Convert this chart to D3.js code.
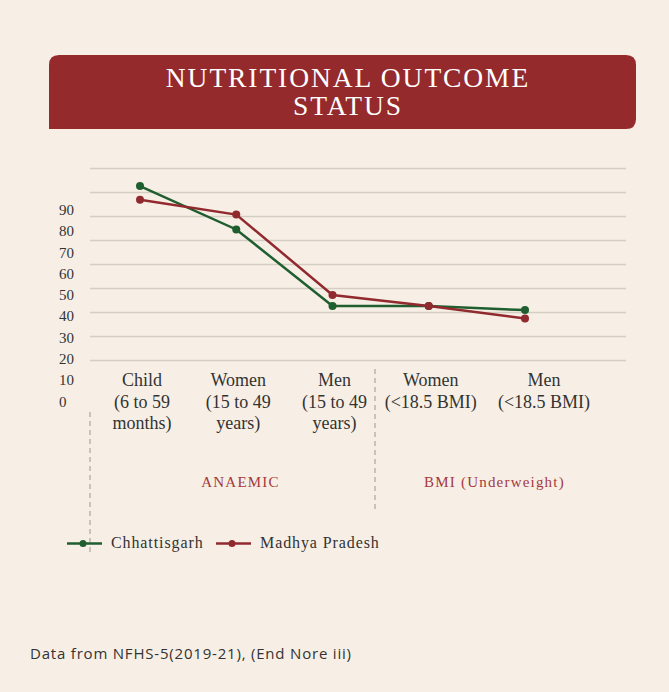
<!DOCTYPE html>
<html>
<head>
<meta charset="utf-8">
<script src="https://cdn.jsdelivr.net/npm/d3@7"></script>
<style>
  html, body { margin: 0; padding: 0; background: #f7efe5; }
  svg { display: block; }
</style>
</head>
<body>
<svg id="chart" width="669" height="692"></svg>
<script>
// Nutritional outcome indicators (%), NFHS-5
const categories = ["childAnaemic", "womenAnaemic", "menAnaemic", "womenBMI", "menBMI"];
const categoryLabels = [
  ["Child", "(6 to 59", "months)"],
  ["Women", "(15 to 49", "years)"],
  ["Men", "(15 to 49", "years)"],
  ["Women", "(<18.5 BMI)"],
  ["Men", "(<18.5 BMI)"]
];
const chhattisgarh = [72.7, 54.6, 22.7, 22.7, 21.0];
const madhyaPradesh = [67.0, 60.8, 27.3, 22.7, 17.5];
const seriesNames = ["Chhattisgarh", "Madhya Pradesh"];
const gridValues = [0, 10, 20, 30, 40, 50, 60, 70, 80];
const tickLabels = [0, 10, 20, 30, 40, 50, 60, 70, 80, 90];
const groupNames = ["ANAEMIC", "BMI (Underweight)"];

const colors = { green: "#1f5e2f", red: "#912a2e", bg: "#f7efe5", title: "#952a2d", text: "#333333", grid: "#d4cdc4" };

const svg = d3.select("#chart");
svg.append("rect").attr("width", 669).attr("height", 692).attr("fill", colors.bg);

// Title banner: rounded except the bottom-left corner
const bx0 = 49, bx1 = 636, by0 = 55, by1 = 129, r = 10;
svg.append("path")
  .attr("d", `M${bx0},${by0 + r} Q${bx0},${by0} ${bx0 + r},${by0} L${bx1 - r},${by0} Q${bx1},${by0} ${bx1},${by0 + r} L${bx1},${by1 - r} Q${bx1},${by1} ${bx1 - r},${by1} L${bx0},${by1} Z`)
  .attr("fill", colors.title);
const title = svg.append("text")
  .attr("text-anchor", "middle")
  .attr("fill", "#ffffff")
  .style("font-family", "'Liberation Serif', 'Times New Roman', serif")
  .style("font-size", "27.5px")
  .style("letter-spacing", "1.9px");
title.append("tspan").attr("x", 348).attr("y", 87).text("NUTRITIONAL OUTCOME");
title.append("tspan").attr("x", 348).attr("y", 115).text("STATUS");

// Scales
const x = d3.scalePoint().domain(categories).range([140, 525]);
const y = d3.scaleLinear().domain([0, 80]).range([360.5, 168.5]);
const labelY = d3.scaleLinear().domain([0, 90]).range([406.5, 215]);

// Gridlines
svg.append("g").selectAll("line").data(gridValues).join("line")
  .attr("x1", 90).attr("x2", 626)
  .attr("y1", d => y(d)).attr("y2", d => y(d))
  .attr("stroke", colors.grid).attr("stroke-width", 1.5);

// Value labels on the left
svg.append("g").selectAll("text").data(tickLabels).join("text")
  .attr("x", 59).attr("y", d => labelY(d))
  .attr("fill", colors.text)
  .style("font-family", "'Liberation Serif', 'Times New Roman', serif")
  .style("font-size", "15px")
  .text(d => d);

// Category labels
const catG = svg.append("g")
  .style("font-family", "'Liberation Serif', 'Times New Roman', serif")
  .style("font-size", "18px")
  .attr("fill", colors.text)
  .attr("text-anchor", "middle");
categories.forEach((c, i) => {
  const t = catG.append("text");
  categoryLabels[i].forEach((line, j) => {
    t.append("tspan").attr("x", x(c) + (i === 4 ? 19 : 2)).attr("y", 386 + j * 21.5).text(line);
  });
});

// Group separators
const sep = [[90, 412, 556], [375, 369, 512]];
svg.append("g").selectAll("line").data(sep).join("line")
  .attr("x1", d => d[0]).attr("x2", d => d[0])
  .attr("y1", d => d[1]).attr("y2", d => d[2])
  .attr("stroke", "#b9b5b0").attr("stroke-width", 1.5)
  .attr("stroke-dasharray", "5,4");

// Group names
svg.append("g").selectAll("text").data(groupNames).join("text")
  .attr("x", (d, i) => i === 0 ? 240.5 : 494.5)
  .attr("y", 486.5)
  .attr("text-anchor", "middle")
  .attr("fill", "#a3393c")
  .style("font-family", "'Liberation Serif', 'Times New Roman', serif")
  .style("font-size", "15px")
  .style("letter-spacing", "1.2px")
  .text(d => d);

// Series
const line = d3.line().x((d, i) => x(categories[i])).y(d => y(d));
const series = [
  { name: seriesNames[0], values: chhattisgarh, color: colors.green },
  { name: seriesNames[1], values: madhyaPradesh, color: colors.red }
];
series.forEach(s => {
  svg.append("path").datum(s.values)
    .attr("d", line)
    .attr("fill", "none")
    .attr("stroke", s.color)
    .attr("stroke-width", 2.5);
  svg.append("g").selectAll("circle").data(s.values).join("circle")
    .attr("cx", (d, i) => x(categories[i]))
    .attr("cy", d => y(d))
    .attr("r", 4)
    .attr("fill", s.color);
});

// Legend
const legendPos = [67, 216];
series.forEach((s, i) => {
  const g = svg.append("g").attr("transform", `translate(${legendPos[i]},543.5)`);
  g.append("line").attr("x1", 0).attr("x2", 35).attr("stroke", s.color).attr("stroke-width", 2.5);
  g.append("circle").attr("cx", 16).attr("r", 3.5).attr("fill", s.color);
  g.append("text").attr("x", 44).attr("y", 4)
    .attr("fill", colors.text)
    .style("font-family", "'Liberation Serif', 'Times New Roman', serif")
    .style("font-size", "16px")
    .style("letter-spacing", "0.9px")
    .text(s.name);
});

// Source note
svg.append("text")
  .attr("x", 30).attr("y", 658.5)
  .attr("fill", colors.text)
  .style("font-family", "'Open Sans', 'Noto Sans', sans-serif")
  .style("font-size", "15px")
  .style("letter-spacing", "0.8px")
  .text("Data from NFHS-5(2019-21), (End Nore iii)");
</script>
</body>
</html>
